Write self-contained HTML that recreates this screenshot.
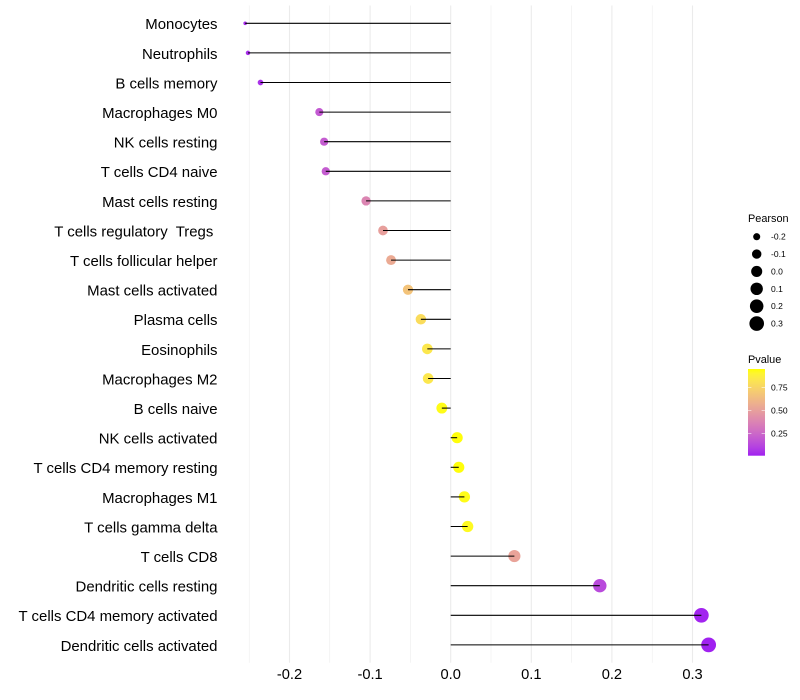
<!DOCTYPE html>
<html>
<head>
<meta charset="utf-8">
<title>Lollipop chart</title>
<style>
html,body{margin:0;padding:0;background:#fff;}
svg{display:block;font-family:"Liberation Sans",sans-serif;}
</style>
</head>
<body>
<svg id="chart" xmlns="http://www.w3.org/2000/svg" width="800" height="700" viewBox="0 0 800 700"></svg>
<script>
var categories = ["Monocytes","Neutrophils","B cells memory","Macrophages M0","NK cells resting","T cells CD4 naive","Mast cells resting","T cells regulatory  Tregs ","T cells follicular helper","Mast cells activated","Plasma cells","Eosinophils","Macrophages M2","B cells naive","NK cells activated","T cells CD4 memory resting","Macrophages M1","T cells gamma delta","T cells CD8","Dendritic cells resting","T cells CD4 memory activated","Dendritic cells activated"];
var pearson = [-0.255,-0.2515,-0.236,-0.163,-0.157,-0.155,-0.105,-0.084,-0.074,-0.053,-0.037,-0.029,-0.028,-0.011,0.008,0.010,0.017,0.021,0.079,0.185,0.311,0.320];
var pvalues = [0.035,0.04,0.05,0.19,0.2,0.2,0.38,0.5,0.55,0.67,0.79,0.84,0.84,0.94,0.95,0.95,0.94,0.93,0.52,0.13,0.012,0.006];
var majorTicks = [-0.2,-0.1,0.0,0.1,0.2,0.3];
var minorTicks = [-0.25,-0.15,-0.05,0.05,0.15,0.25];
var sizeLegendValues = [-0.2,-0.1,0.0,0.1,0.2,0.3];
var colorLegendValues = [0.25,0.50,0.75];
var pearsonDomain = [-0.255,0.320];
var pvalueDomain = [0.004,0.955];

var NS = "http://www.w3.org/2000/svg";
var svg = document.getElementById("chart");
function xScale(v){return 450.7 + v*806;}
function yScale(i){return 23.3 + i*29.6;}
function rScale(v){
  var t = Math.max(0,(v-pearsonDomain[0])/(pearsonDomain[1]-pearsonDomain[0]));
  return 1.8 + 5.6*Math.sqrt(t);
}
function toLin(c){c/=255;return c<=0.04045?c/12.92:Math.pow((c+0.055)/1.055,2.4);}
function fromLin(c){c=c<=0.0031308?12.92*c:1.055*Math.pow(c,1/2.4)-0.055;return Math.round(Math.min(1,Math.max(0,c))*255);}
function f(t){return t>0.008856?Math.cbrt(t):7.787*t+16/116;}
function fi(t){return t>0.2069?t*t*t:(t-16/116)/7.787;}
function rgb2lab(c){
  var r=toLin(c[0]),g=toLin(c[1]),b=toLin(c[2]);
  var X=(0.4124*r+0.3576*g+0.1805*b)/0.95047,Y=0.2126*r+0.7152*g+0.0722*b,Z=(0.0193*r+0.1192*g+0.9505*b)/1.08883;
  return [116*f(Y)-16,500*(f(X)-f(Y)),200*(f(Y)-f(Z))];
}
function lab2rgb(l){
  var y=(l[0]+16)/116,x=l[1]/500+y,z=y-l[2]/200;
  var X=fi(x)*0.95047,Y=fi(y),Z=fi(z)*1.08883;
  return "rgb("+fromLin(3.2406*X-1.5372*Y-0.4986*Z)+","+fromLin(-0.9689*X+1.8758*Y+0.0415*Z)+","+fromLin(0.0557*X-0.2040*Y+1.0570*Z)+")";
}
var labLow = rgb2lab([160,32,240]);
var labHigh = rgb2lab([255,255,0]);
function colorScale(p){
  var t=(p-pvalueDomain[0])/(pvalueDomain[1]-pvalueDomain[0]);
  t=Math.max(0,Math.min(1,t));
  return lab2rgb([labLow[0]+(labHigh[0]-labLow[0])*t,labLow[1]+(labHigh[1]-labLow[1])*t,labLow[2]+(labHigh[2]-labLow[2])*t]);
}
function slug(s){return s.trim().toLowerCase().replace(/[^a-z0-9]+/g,"-");}
function make(tag,attrs,parent){
  var e=document.createElementNS(NS,tag);
  for(var k in attrs){e.setAttribute(k,attrs[k]);}
  (parent||svg).appendChild(e);
  return e;
}

var panelTop=5.5,panelBottom=662.7;
minorTicks.forEach(function(v){
  var el=make("line",{x1:xScale(v),x2:xScale(v),y1:panelTop,y2:panelBottom,stroke:"#ebebeb","stroke-width":0.55});
  
  
});
majorTicks.forEach(function(v){
  var el=make("line",{x1:xScale(v),x2:xScale(v),y1:panelTop,y2:panelBottom,stroke:"#ebebeb","stroke-width":1.07});
  
  
  var t=make("text",{x:xScale(v),y:679,"text-anchor":"middle","font-size":14.67,fill:"#000"});
  t.textContent=v.toFixed(1);
  
  
});
categories.forEach(function(c,i){
  var t=make("text",{x:217.5,y:yScale(i)+5.9,"text-anchor":"end","font-size":14.95,fill:"#000"});
  t.setAttribute("xml:space","preserve");
  t.style.whiteSpace="pre";
  t.textContent=c;
  
  
});
categories.forEach(function(c,i){
  var p=make("circle",{cx:xScale(pearson[i]),cy:yScale(i),r:rScale(pearson[i]),fill:colorScale(pvalues[i])});
  
  
});
categories.forEach(function(c,i){
  var l=make("line",{x1:xScale(0),x2:xScale(pearson[i]),y1:yScale(i),y2:yScale(i),stroke:"#000","stroke-width":1.07});
  
  
});

var sizeTitle=make("text",{x:748,y:222,"font-size":10.9,fill:"#000"});
sizeTitle.textContent="Pearson";


sizeLegendValues.forEach(function(v,i){
  var cy=236.7+i*17.37;
  var k=make("circle",{cx:756.7,cy:cy,r:rScale(v),fill:"#000"});
  
  
  var t=make("text",{x:771,y:cy+3,"font-size":8.53,fill:"#000"});
  t.textContent=v.toFixed(1);
  
  
});

var colorTitle=make("text",{x:748,y:363,"font-size":10.9,fill:"#000"});
colorTitle.textContent="Pvalue";


var barTop=369,barBottom=455.7,barLeft=748,barRight=765;
var defs=make("defs",{});
var grad=make("linearGradient",{id:"pgrad",x1:0,y1:1,x2:0,y2:0},defs);
for(var s=0;s<=20;s++){
  make("stop",{offset:(s/20),"stop-color":colorScale(pvalueDomain[0]+(pvalueDomain[1]-pvalueDomain[0])*s/20)},grad);
}
var bar=make("rect",{x:barLeft,y:barTop,width:barRight-barLeft,height:barBottom-barTop,fill:"url(#pgrad)"});


function barY(p){return barBottom-(p-pvalueDomain[0])/(pvalueDomain[1]-pvalueDomain[0])*(barBottom-barTop);}
colorLegendValues.forEach(function(v){
  var y=barY(v);
  var a=make("line",{x1:barLeft,x2:barLeft+3.4,y1:y,y2:y,stroke:"#fff","stroke-width":0.55});
  
  
  var b=make("line",{x1:barRight-3.4,x2:barRight,y1:y,y2:y,stroke:"#fff","stroke-width":0.55});
  
  
  var t=make("text",{x:771,y:y+3,"font-size":8.53,fill:"#000"});
  t.textContent=v.toFixed(2);
  
  
});
</script>
</body>
</html>
